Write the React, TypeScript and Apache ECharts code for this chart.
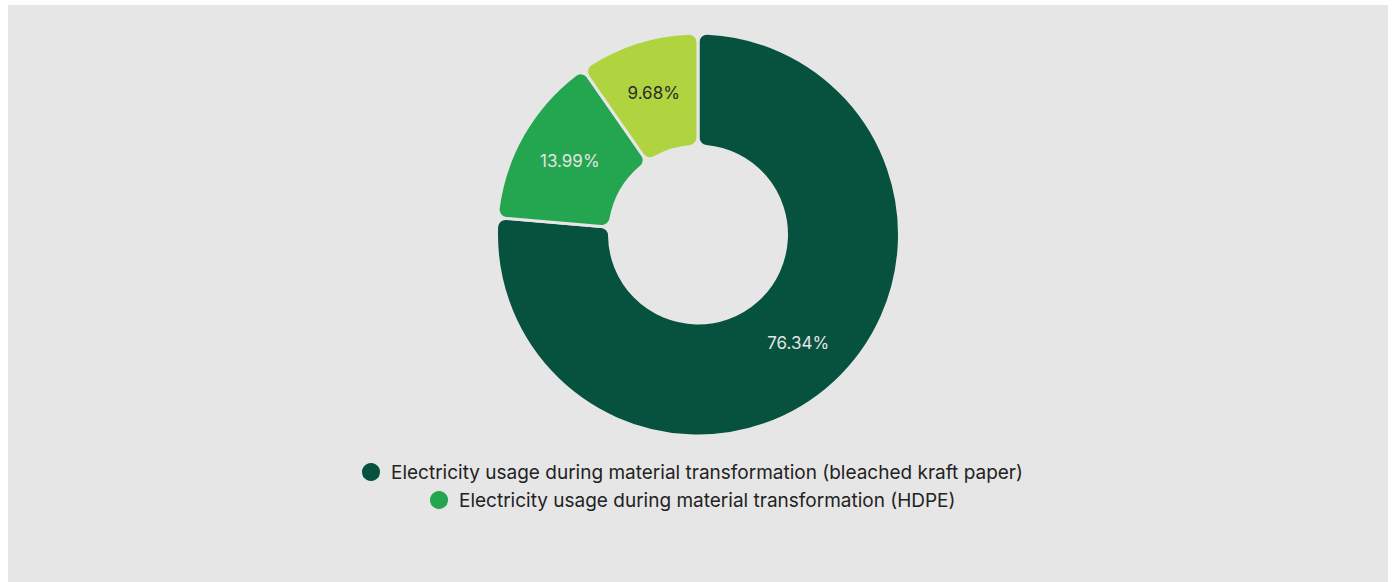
import React, { useEffect, useRef } from "react";
import * as echarts from "echarts";

const categories = [
  "Electricity usage during material transformation (bleached kraft paper)",
  "Electricity usage during material transformation (HDPE)",
  "Other",
];
const values = [76.34, 13.99, 9.68];
const colors = ["#07513f", "#24a550", "#afd43f"];
const labelColors = ["#e4e4e4", "#e4e4e4", "#2a2a2a"];

export default function App() {
  const ref = useRef<HTMLDivElement>(null);
  useEffect(() => {
    document.body.style.margin = "0";
    const chart = echarts.init(ref.current!, undefined, { renderer: "svg" });
    const font = "Inter, 'Noto Sans', sans-serif";
    const legendCommon = {
      orient: "horizontal" as const,
      icon: "circle",
      itemWidth: 20,
      itemHeight: 20,
      selectedMode: false,
      textStyle: { fontFamily: font, fontSize: 19, color: "#222", padding: [0, 0, 0, 5] },
    };
    chart.setOption({
      animation: false,
      backgroundColor: "#e6e6e6",
      legend: [
        { ...legendCommon, data: [categories[0]], left: 347, top: 451 },
        { ...legendCommon, data: [categories[1]], left: 415, top: 479 },
      ],
      series: [
        {
          type: "pie",
          center: [690, 229.5],
          radius: [88.5, 201.5],
          startAngle: 90,
          clockwise: true,
          itemStyle: { borderRadius: 9, borderColor: "#e6e6e6", borderWidth: 3 },
          label: {
            show: true,
            position: "inside",
            fontFamily: font,
            fontSize: 17,
            formatter: (p: any) => p.value.toFixed(2) + "%",
          },
          labelLine: { show: false },
          emphasis: { disabled: true },
          data: categories.map((name, i) => ({
            name,
            value: values[i],
            itemStyle: { color: colors[i] },
            label: { color: labelColors[i] },
          })),
        },
      ],
    });
    return () => chart.dispose();
  }, []);
  return (
    <div
      ref={ref}
      style={{ position: "absolute", left: 8, top: 5, width: 1380, height: 577 }}
    />
  );
}
